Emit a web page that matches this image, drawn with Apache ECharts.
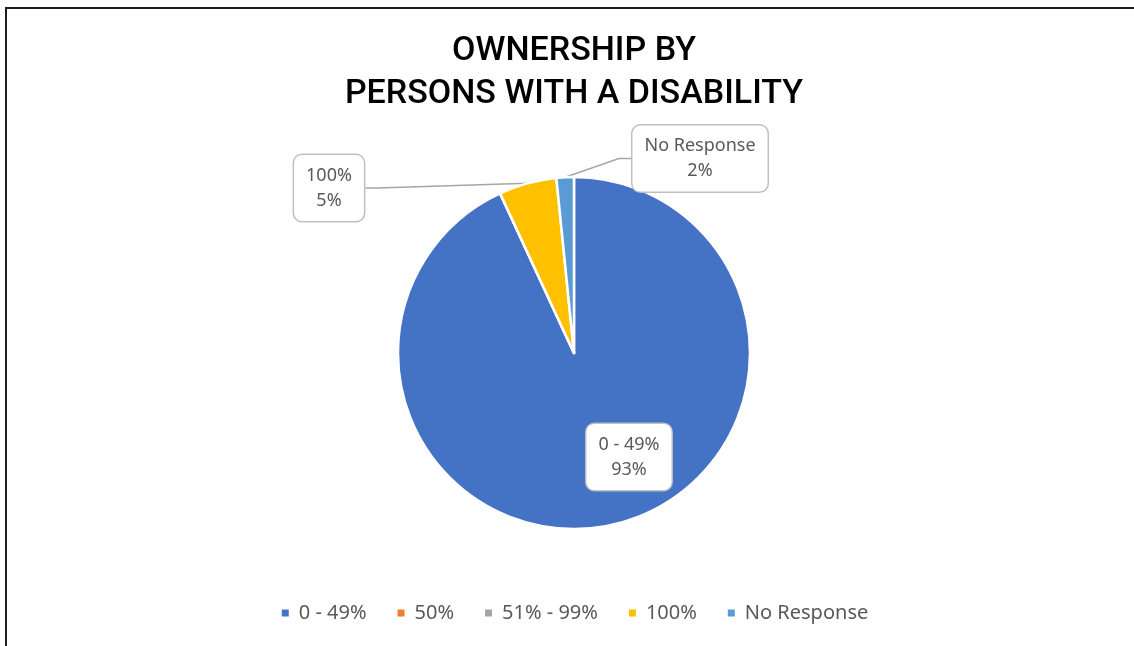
<!DOCTYPE html>
<html>
<head>
<meta charset="utf-8">
<script src="https://cdn.jsdelivr.net/npm/echarts@6/dist/echarts.min.js"></script>
<style>
  html, body { margin: 0; padding: 0; background: #fff; overflow: hidden; }
  #frame {
    position: absolute; left: 5px; top: 7px; width: 1200px; height: 700px;
    border-top: 2px solid #1f1f1f; border-left: 2px solid #1f1f1f;
  }
  #chart { position: absolute; left: 0; top: 0; width: 1134px; height: 640px; }
</style>
</head>
<body>
<div id="frame"><div id="chart"></div></div>
<script>
// Ownership shares (percent of respondents)
const categories = ['0 - 49%', '50%', '51% - 99%', '100%', 'No Response'];
const shares = [93.1, 0, 0, 5.3, 1.6];
const sliceColors = ['#4472C4', '#ED7D31', '#A5A5A5', '#FFC000', '#5B9BD5'];
const titleText = 'OWNERSHIP BY\nPERSONS WITH A DISABILITY';

// Callout placement (label box centres, in chart pixels) and label mode
const calloutCentres = {
  '0 - 49%': [622, 448],
  '100%': [322, 179],
  'No Response': [693, 149.5]
};
const insideLabels = ['0 - 49%'];

const chart = echarts.init(document.getElementById('chart'), null, { renderer: 'canvas' });

const pieData = categories.map((name, i) => {
  const visible = shares[i] > 0;
  const inside = insideLabels.indexOf(name) >= 0;
  return {
    name: name,
    value: shares[i],
    itemStyle: { color: sliceColors[i] },
    label: { show: visible, position: inside ? 'inside' : 'outside' },
    labelLine: { show: visible && !inside }
  };
});

chart.setOption({
  animation: false,
  title: {
    text: titleText,
    left: 562,
    top: 16,
    textAlign: 'center',
    textStyle: {
      fontFamily: 'Roboto',
      fontSize: 34,
      fontWeight: 500,
      color: '#000',
      lineHeight: 43
    }
  },
  legend: {
    bottom: 21,
    left: 'center',
    icon: 'rect',
    itemWidth: 9,
    itemHeight: 9,
    itemGap: 29,
    data: categories,
    textStyle: { fontFamily: 'Noto Sans', fontSize: 20, color: '#595959', padding: [0, 0, 0, 4] }
  },
  series: [{
    type: 'pie',
    center: ['50%', 344],
    radius: 176,
    startAngle: 90,
    clockwise: true,
    avoidLabelOverlap: false,
    percentPrecision: 0,
    itemStyle: { borderColor: '#fff', borderWidth: 2.5 },
    label: {
      formatter: '{b}\n{d}%',
      fontFamily: 'Noto Sans',
      fontSize: 18,
      lineHeight: 25,
      color: '#595959',
      backgroundColor: '#fff',
      borderColor: '#bfbfbf',
      borderWidth: 1.5,
      borderRadius: 8,
      padding: [8, 12],
      align: 'center'
    },
    labelLine: {
      lineStyle: { color: '#a6a6a6', width: 1.5 }
    },
    labelLayout: function (params) {
      const name = categories[params.dataIndex];
      const c = calloutCentres[name];
      if (!c) return {};
      const out = { x: c[0], y: c[1], align: 'center', verticalAlign: 'middle' };
      const pts = params.labelLinePoints;
      if (pts && pts.length) {
        const p0 = pts[0];
        const halfW = params.labelRect.width / 2;
        const toRight = c[0] > p0[0];
        const endX = toRight ? c[0] - halfW : c[0] + halfW;
        const elbowX = toRight ? endX - 12 : endX + 12;
        out.labelLinePoints = [p0, [elbowX, c[1]], [endX, c[1]]];
      }
      return out;
    },
    data: pieData
  }]
});
</script>
</body>
</html>
